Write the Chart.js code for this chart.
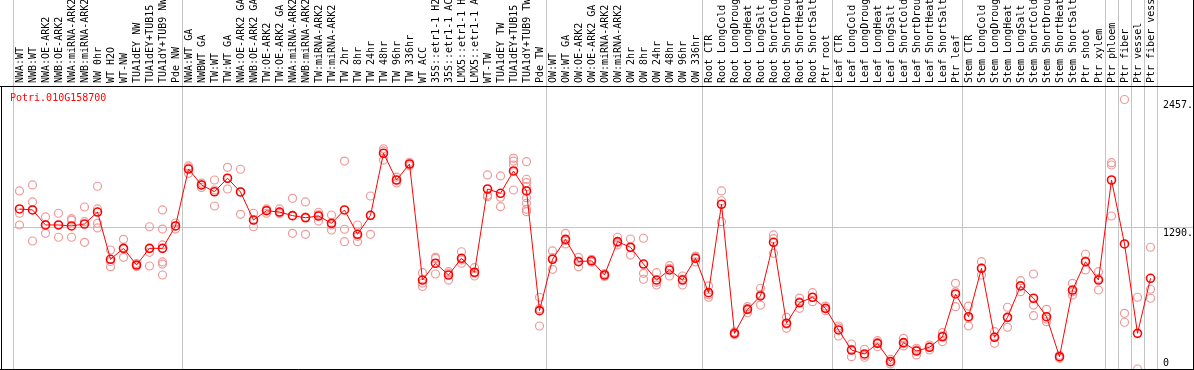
<!DOCTYPE html>
<html lang="en">
<head>
    <meta charset="UTF-8">
    <title>Potri.010G158700 expression</title>
    <script src="https://cdn.jsdelivr.net/npm/chart.js"></script>
    <style>
        html, body { margin: 0; padding: 0; background: #fff; }
        #wrap { width: 1194px; height: 370px; }
    </style>
</head>
<body>
    <div id="wrap"><canvas id="exprChart" width="1194" height="370"></canvas></div>
    <script>
        const geneName = 'Potri.010G158700';

        const samples = [
            'NWA:WT', 'NWB:WT', 'NWA:OE-ARK2', 'NWB:OE-ARK2', 'NWA:miRNA-ARK2', 'NWB:miRNA-ARK2',
            'NW 0hr', 'WT H2O', 'WT-NW', 'TUA1dEY NW', 'TUA1dEY+TUB15 NW', 'TUA1dY+TUB9 NW', 'Pde NW',
            'NWA:WT GA', 'NWBWT GA', 'TW:WT', 'TW:WT GA', 'NWA:OE-ARK2 GA', 'NWB:OE-ARK2 GA',
            'TW:OE-ARK2', 'TW:OE-ARK2 GA', 'NWA:miRNA-ARK2 GA', 'NWB:miRNA-ARK2 GA', 'TW:miRNA-ARK2',
            'TW:miRNA-ARK2 GA', 'TW 2hr', 'TW 8hr', 'TW 24hr', 'TW 48hr', 'TW 96hr', 'TW 336hr', 'WT ACC',
            '35S::etr1-1 H2O', '35S::etr1-1 ACC', 'LMX5::etr1-1 H2O', 'LMX5::etr1-1 ACC', 'WT-TW',
            'TUA1dEY TW', 'TUA1dEY+TUB15 TW', 'TUA1dY+TUB9 TW', 'Pde TW',
            'OW:WT', 'OW:WT GA', 'OW:OE-ARK2', 'OW:OE-ARK2 GA', 'OW:miRNA-ARK2', 'OW:miRNA-ARK2 GA',
            'OW 2hr', 'OW 8hr', 'OW 24hr', 'OW 48hr', 'OW 96hr', 'OW 336hr',
            'Root CTR', 'Root LongCold', 'Root LongDrought', 'Root LongHeat', 'Root LongSalt',
            'Root ShortCold', 'Root ShortDrought', 'Root ShortHeat', 'Root ShortSalt', 'Ptr root',
            'Leaf CTR', 'Leaf LongCold', 'Leaf LongDrought', 'Leaf LongHeat', 'Leaf LongSalt',
            'Leaf ShortCold', 'Leaf ShortDrought', 'Leaf ShortHeat', 'Leaf ShortSalt', 'Ptr leaf',
            'Stem CTR', 'Stem LongCold', 'Stem LongDrought', 'Stem LongHeat', 'Stem LongSalt',
            'Stem ShortCold', 'Stem ShortDrought', 'Stem ShortHeat', 'Stem ShortSalt',
            'Ptr shoot', 'Ptr xylem', 'Ptr phloem', 'Ptr fiber', 'Ptr vessel', 'Ptr fiber vessel'
        ];

        const means = [
            1459, 1450, 1313, 1313, 1304, 1322, 1431, 1000, 1100, 948, 1100, 1100, 1304,
            1823, 1678, 1616, 1739, 1614, 1358, 1443, 1431, 1398, 1379, 1395, 1328,
            1450, 1228, 1401, 1967, 1723, 1869, 811, 964, 857, 1009, 882,
            1641, 1602, 1805, 1623, 532,
            1000, 1182, 978, 987, 857, 1161, 1110, 957, 811, 903, 811, 1009,
            696, 1502, 325, 544, 666, 1155, 417, 604, 654, 553,
            356, 173, 137, 234, 67, 240, 164, 198, 294, 684,
            477, 918, 289, 471, 757, 645, 477, 112, 720,
            978, 811, 1723, 1140, 325, 827
        ];

        const replicates = [
            [1623, 1420, 1313], [1678, 1523, 1167], [1386, 1313, 1237], [1420, 1313, 1201],
            [1370, 1358, 1201], [1477, 1343, 1155], [1666, 1459, 1328, 1286], [1085, 980, 933],
            [1182, 1100, 1018], [962, 948, 934], [1297, 1064, 939], [1450, 1276, 1131, 976, 957, 857],
            [1331, 1304, 1276],
            [1851, 1834, 1784], [1695, 1678, 1655], [1723, 1632, 1486], [1839, 1739, 1641],
            [1821, 1614, 1410], [1420, 1358, 1297], [1459, 1450, 1420], [1459, 1431, 1417],
            [1556, 1398, 1237], [1523, 1386, 1228], [1429, 1407, 1349], [1404, 1313, 1267],
            [1896, 1274, 1161], [1313, 1210, 1161], [1577, 1398, 1228], [2008, 1988, 1905],
            [1750, 1723, 1696], [1885, 1869, 1853], [878, 783, 752], [1018, 1008, 866],
            [887, 873, 811], [1069, 994, 964], [924, 874, 848], [1769, 1583, 1571],
            [1760, 1566, 1480], [1921, 1896, 1860, 1632],
            [1890, 1730, 1699, 1662, 1562, 1511, 1456, 1434], [654, 550, 392],
            [1076, 1015, 909], [1237, 1170, 1140], [1018, 984, 933], [1000, 987, 974],
            [870, 857, 844], [1201, 1150, 1131], [1185, 1105, 1039], [1192, 872, 818],
            [878, 790, 766], [942, 918, 848], [848, 820, 766], [1030, 1022, 976],
            [757, 676, 654], [1623, 1534, 1343], [338, 325, 312], [568, 552, 513],
            [736, 678, 583], [1222, 1188, 1055], [471, 408, 371], [647, 612, 553],
            [696, 652, 614], [574, 553, 532],
            [392, 375, 301], [228, 179, 112], [180, 124, 107], [258, 241, 203], [88, 67, 46],
            [280, 230, 210], [189, 175, 128], [219, 202, 173], [331, 302, 249], [781, 703, 568],
            [574, 465, 392], [978, 919, 857], [340, 293, 234], [563, 470, 380], [805, 761, 705],
            [866, 583, 486], [544, 456, 431], [125, 112, 99], [781, 704, 675],
            [1046, 985, 903], [887, 826, 720], [1881, 1860, 1395], [2457, 508, 426],
            [654, 0], [1110, 727, 645]
        ];

        const yTicks = [0, 1290, 2457];
        const yMax = 2580;
        // grid lines drawn at the left edge of these sample indices (88 = right end)
        const groupEdges = [0, 13, 41, 53, 63, 73, 84, 85, 86, 87, 88];

        const gridGray = '#c4c4c4';
        const monoFont = "'DejaVu Sans Mono', monospace";

        const repPoints = [];
        replicates.forEach((reps, i) => {
            reps.forEach(v => repPoints.push({ x: samples[i], y: v }));
        });

        // black frame around the plot + gene name
        const framePlugin = {
            id: 'frame',
            afterDraw(chart) {
                const ctx = chart.ctx;
                const w = chart.width, h = chart.height;
                const top = chart.chartArea.top;
                ctx.save();
                ctx.strokeStyle = '#000';
                ctx.lineWidth = 1;
                ctx.beginPath();
                ctx.moveTo(0, top + 0.5); ctx.lineTo(w, top + 0.5);
                ctx.moveTo(1.5, top); ctx.lineTo(1.5, h);
                ctx.moveTo(0, h - 0.5); ctx.lineTo(w, h - 0.5);
                ctx.moveTo(w - 0.5, 0); ctx.lineTo(w - 0.5, h);
                ctx.stroke();
                ctx.fillStyle = '#ff0000';
                ctx.font = '10px ' + monoFont;
                ctx.textBaseline = 'alphabetic';
                ctx.fillText(geneName, 10, 101);
                ctx.restore();
            }
        };

        new Chart(document.getElementById('exprChart'), {
            type: 'line',
            data: {
                labels: samples,
                datasets: [
                    {
                        label: 'mean',
                        data: means,
                        borderColor: '#ff0000',
                        borderWidth: 1,
                        pointRadius: 4,
                        pointBorderWidth: 1.6,
                        pointBorderColor: '#ff0000',
                        pointBackgroundColor: 'rgba(0,0,0,0)',
                        tension: 0
                    },
                    {
                        label: 'replicates',
                        data: repPoints,
                        showLine: false,
                        pointRadius: 4,
                        pointBorderWidth: 1.2,
                        pointBorderColor: '#ee9a9a',
                        pointBackgroundColor: 'rgba(0,0,0,0)'
                    }
                ]
            },
            options: {
                responsive: false,
                animation: false,
                devicePixelRatio: 1,
                layout: { autoPadding: false, padding: { left: 13, right: 0, top: 0, bottom: 1 } },
                plugins: {
                    legend: { display: false },
                    tooltip: { enabled: false }
                },
                scales: {
                    x: {
                        type: 'category',
                        position: 'top',
                        offset: true,
                        grid: {
                            offset: true,
                            drawOnChartArea: true,
                            drawTicks: true,
                            tickLength: 86,
                            lineWidth: 1,
                            color: c => (c.index === undefined || groupEdges.includes(c.index)) ? gridGray : 'rgba(0,0,0,0)'
                        },
                        border: { display: true, color: '#000' },
                        ticks: {
                            autoSkip: false,
                            minRotation: 90,
                            maxRotation: 90,
                            padding: -83,
                            labelOffset: 12.5,
                            color: '#000',
                            font: { family: monoFont, size: 10 }
                        },
                        afterFit: scale => { scale.height = 86; }
                    },
                    y: {
                        type: 'linear',
                        position: 'right',
                        min: 0,
                        max: yMax,
                        afterBuildTicks: scale => { scale.ticks = yTicks.map(v => ({ value: v })); },
                        grid: {
                            drawTicks: true,
                            tickLength: 36,
                            lineWidth: 1,
                            color: c => (c.tick && c.tick.value === 1290) ? gridGray : 'rgba(0,0,0,0)'
                        },
                        border: { display: false },
                        ticks: {
                            padding: -30,
                            labelOffset: 6,
                            color: '#000',
                            font: { family: monoFont, size: 10, lineHeight: 1.2 },
                            callback: v => v === 0 ? ['0', '', ''] : v + '.'
                        },
                        afterFit: scale => { scale.width = 37; }
                    }
                }
            },
            plugins: [framePlugin]
        });
    </script>
</body>
</html>
